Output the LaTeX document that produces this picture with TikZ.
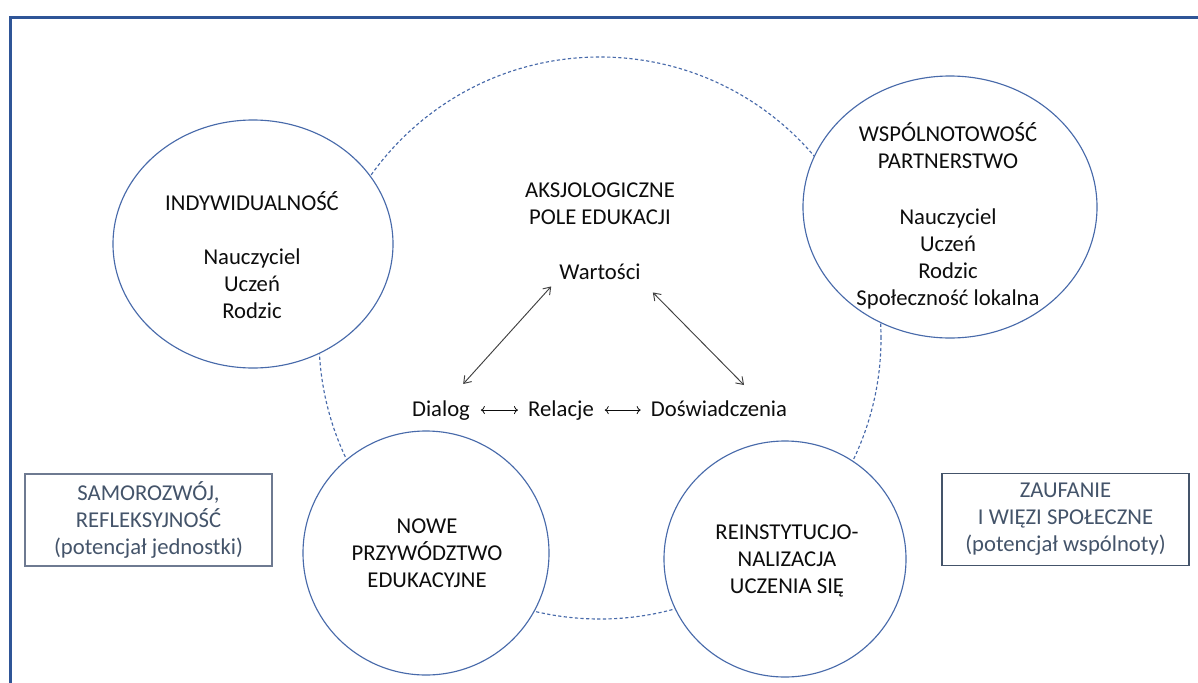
\documentclass[tikz,border=0pt]{standalone}
\usepackage{fontspec}
\setmainfont{Carlito}
\usetikzlibrary{shapes.geometric,arrows.meta,calc}
\definecolor{framecol}{RGB}{47,85,151}
\definecolor{circcol}{RGB}{72,106,170}
\definecolor{boxtext}{RGB}{68,84,106}
\definecolor{boxlinea}{RGB}{110,122,145}
\definecolor{boxlineb}{RGB}{68,84,106}
\definecolor{arrcol}{RGB}{64,64,64}
\definecolor{txt}{RGB}{13,13,13}
\begin{document}
\begin{tikzpicture}[x=0.75pt,y=-0.75pt,
  font=\fontsize{17}{20.25}\selectfont,
  bubble/.style={ellipse, draw=circcol, line width=0.85pt, fill=white, inner sep=0pt, outer sep=0pt},
  field/.style={ellipse, draw=circcol, line width=0.85pt, dash pattern=on 2.4pt off 1.8pt, inner sep=0pt, outer sep=0pt,
    minimum width=562*0.75pt, minimum height=562*0.75pt},
  label/.style={align=center, text=txt, inner sep=0pt},
  word/.style={text=txt, inner sep=0pt, anchor=base},
  dbl/.style={arrcol, line width=0.7pt, {Straight Barb[length=5pt,width=7pt]}-{Straight Barb[length=5pt,width=7pt]}},
  mathlr/.style={txt, line width=0.6pt, {To[length=3pt,width=6pt]}-{To[length=3pt,width=6pt]}, shorten <=8pt, shorten >=7.5pt},
  sidebox/.style={align=center, text=boxtext, inner sep=0pt, minimum width=247*0.75pt, minimum height=92*0.75pt}]

\useasboundingbox (0,0) rectangle (1198,682);
\fill[white] (0,0) rectangle (1198,682);
\draw[framecol, line width=2.3pt] (10.5,695) -- (10.5,17.5) -- (1210,17.5);

% axiological field (dashed)
\node[field] (field) at (600,338) {};

% bubbles
\node[bubble, minimum width=280*0.75pt, minimum height=248*0.75pt] (indiv) at (253,244) {};
\node[bubble, minimum width=294*0.75pt, minimum height=262*0.75pt] (wspol) at (950,207) {};
\node[bubble, minimum width=246*0.75pt, minimum height=244*0.75pt] (nowe) at (426,553) {};
\node[bubble, minimum width=242*0.75pt, minimum height=236*0.75pt] (reinst) at (785,559) {};

% bubble texts
\node[label] (indivT) at (252,201) {INDYWIDUALNOŚĆ};
\node[label] (indivL) at (252,284) {Nauczyciel\\Uczeń\\Rodzic};
\node[label] (wspolT) at (948,145.5) {WSPÓLNOTOWOŚĆ\\PARTNERSTWO};
\node[label] (wspolL) at (948,259) {Nauczyciel\\Uczeń\\Rodzic\\Społeczność lokalna};
\node[label] (noweT) at (427,553.5) {NOWE\\PRZYWÓDZTWO\\EDUKACYJNE};
\node[label] (reinstT) at (787,561) {REINSTYTUCJO-\\NALIZACJA\\UCZENIA SIĘ};

% central field
\node[label] (aksj) at (600,203.5) {AKSJOLOGICZNE\\POLE EDUKACJI};
\node[word] (wart) at (600,279) {Wartości};
\node[word] (dialog) at (441,416) {Dialog};
\node[word] (relacje) at (561,416) {Relacje};
\node[word] (dosw) at (719,416) {Doświadczenia};

\draw[mathlr] (dialog.east) -- (relacje.west |- dialog.east);
\draw[mathlr] (relacje.east |- dialog.east) -- (dosw.west |- dialog.east);
\draw[dbl] ($(dialog.north east)+(-7,-16)$) -- ($(wart.south west)+(-8,7)$);
\draw[dbl] ($(wart.south east)+(12,13)$) -- ($(dosw.north)+(25,-15)$);

% side boxes
\node[sidebox, draw=boxlinea, line width=0.8pt] (selfbox) at (148.5,520) {SAMOROZWÓJ,\\REFLEKSYJNOŚĆ\\(potencjał jednostki)};
\node[sidebox, draw=boxlineb, line width=1.3pt] (trustbox) at (1065.5,519.5) {ZAUFANIE\\I WIĘZI SPOŁECZNE\\(potencjał wspólnoty)};
\end{tikzpicture}
\end{document}
